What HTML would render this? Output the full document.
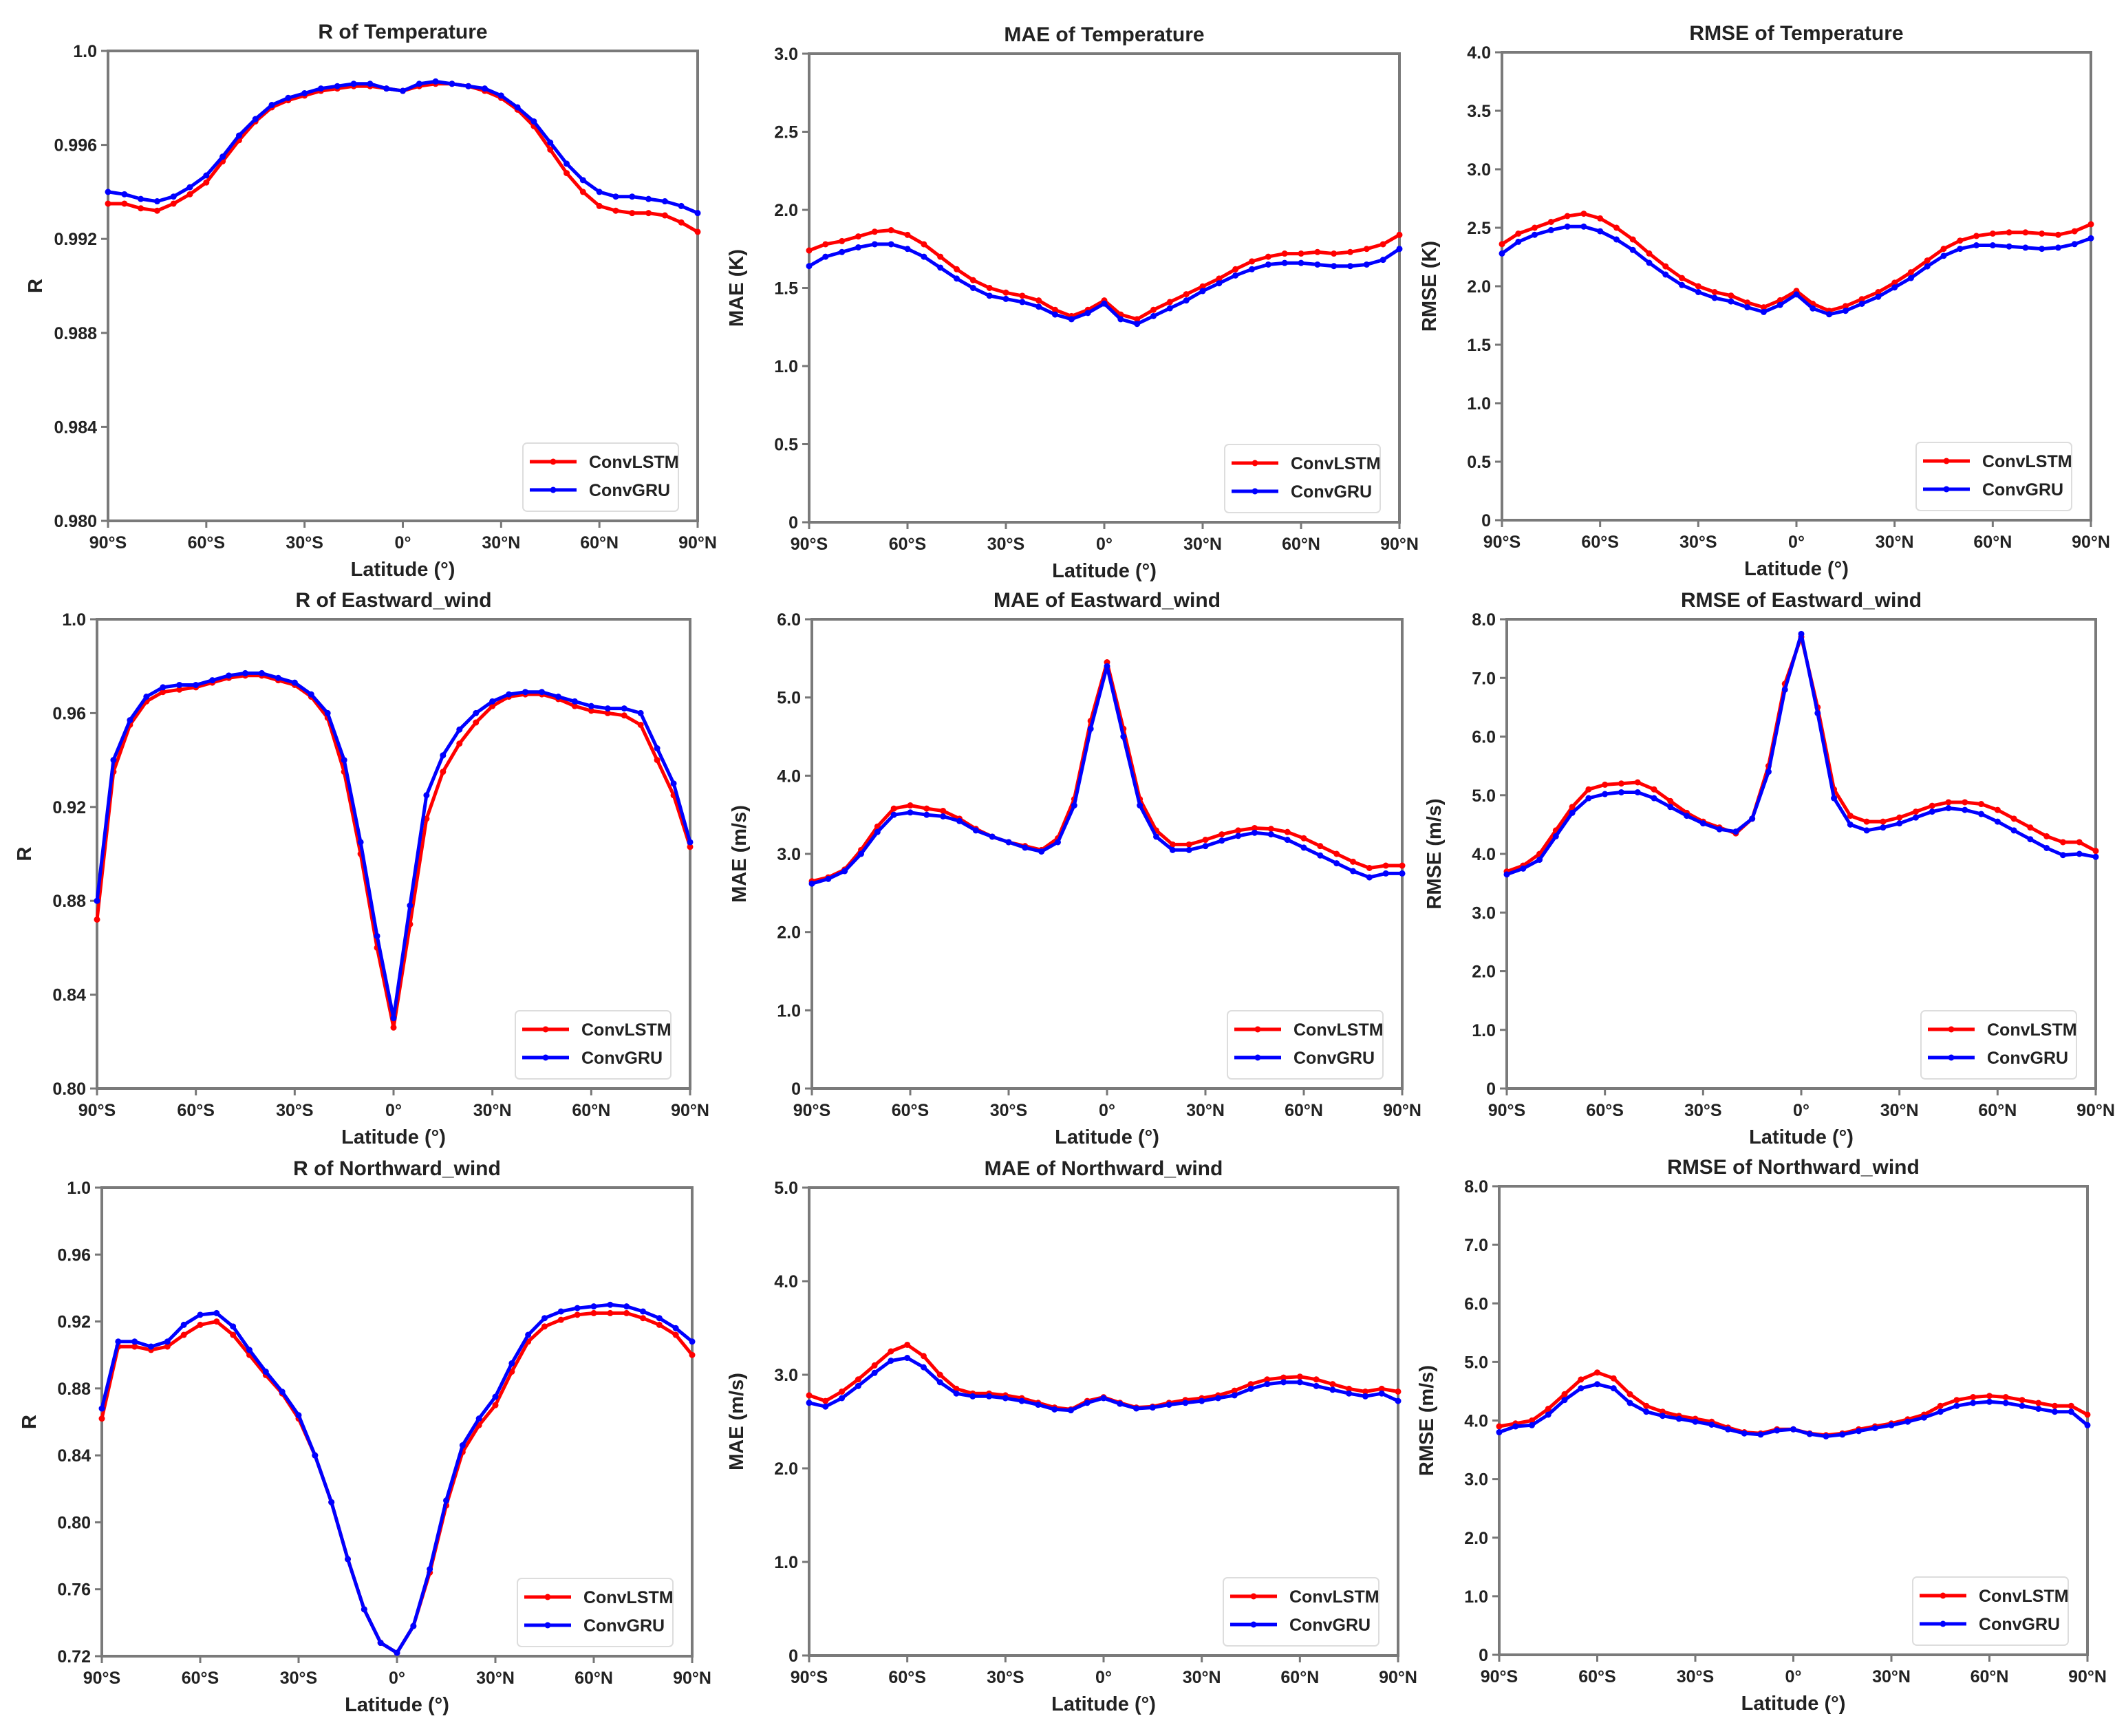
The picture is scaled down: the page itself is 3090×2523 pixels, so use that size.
<!DOCTYPE html>
<html><head><meta charset="utf-8">
<style>
html,body{margin:0;padding:0;background:#fff;}
svg{display:block;font-family:"Liberation Sans",sans-serif;}
</style></head>
<body>
<svg id="fig" width="3090" height="2523" viewBox="0 0 3090 2523" xmlns="http://www.w3.org/2000/svg"></svg>
<script>
const latitudes=[-90,-85,-80,-75,-70,-65,-60,-55,-50,-45,-40,-35,-30,-25,-20,-15,-10,-5,0,5,10,15,20,25,30,35,40,45,50,55,60,65,70,75,80,85,90];
const xTickValues=[-90,-60,-30,0,30,60,90];
const xTickLabels=["90°S","60°S","30°S","0°","30°N","60°N","90°N"];

const rTempLSTM=[.9935,.9935,.9933,.9932,.9935,.9939,.9944,.9953,.9962,.9970,.9976,.9979,.9981,.9983,.9984,.9985,.9985,.9984,.9983,.9985,.9986,.9986,.9985,.9983,.9980,.9975,.9968,.9958,.9948,.9940,.9934,.9932,.9931,.9931,.9930,.9927,.9923];
const rTempGRU=[.9940,.9939,.9937,.9936,.9938,.9942,.9947,.9955,.9964,.9971,.9977,.9980,.9982,.9984,.9985,.9986,.9986,.9984,.9983,.9986,.9987,.9986,.9985,.9984,.9981,.9976,.9970,.9961,.9952,.9945,.9940,.9938,.9938,.9937,.9936,.9934,.9931];
const maeTempLSTM=[1.74,1.78,1.80,1.83,1.86,1.87,1.84,1.78,1.70,1.62,1.55,1.50,1.47,1.45,1.42,1.36,1.32,1.36,1.42,1.33,1.30,1.36,1.41,1.46,1.51,1.56,1.62,1.67,1.70,1.72,1.72,1.73,1.72,1.73,1.75,1.78,1.84];
const maeTempGRU=[1.64,1.70,1.73,1.76,1.78,1.78,1.75,1.70,1.63,1.56,1.50,1.45,1.43,1.41,1.38,1.33,1.30,1.34,1.40,1.30,1.27,1.32,1.37,1.42,1.48,1.53,1.58,1.62,1.65,1.66,1.66,1.65,1.64,1.64,1.65,1.68,1.75];
const rmseTempLSTM=[2.36,2.45,2.50,2.55,2.60,2.62,2.58,2.50,2.40,2.28,2.17,2.07,2.00,1.95,1.92,1.86,1.82,1.88,1.96,1.85,1.79,1.83,1.89,1.95,2.03,2.12,2.22,2.32,2.39,2.43,2.45,2.46,2.46,2.45,2.44,2.47,2.53];
const rmseTempGRU=[2.28,2.38,2.44,2.48,2.51,2.51,2.47,2.40,2.31,2.20,2.10,2.01,1.95,1.90,1.87,1.82,1.78,1.84,1.93,1.81,1.76,1.79,1.85,1.91,1.99,2.07,2.17,2.26,2.32,2.35,2.35,2.34,2.33,2.32,2.33,2.36,2.41];
const rEastLSTM=[.872,.935,.955,.965,.969,.970,.971,.973,.975,.976,.976,.974,.972,.967,.958,.935,.900,.860,.826,.870,.915,.935,.947,.956,.963,.967,.968,.968,.966,.963,.961,.960,.959,.955,.940,.925,.903];
const rEastGRU=[.880,.940,.957,.967,.971,.972,.972,.974,.976,.977,.977,.975,.973,.968,.960,.940,.905,.865,.830,.878,.925,.942,.953,.960,.965,.968,.969,.969,.967,.965,.963,.962,.962,.960,.945,.930,.905];
const maeEastLSTM=[2.65,2.70,2.80,3.05,3.35,3.58,3.62,3.58,3.55,3.45,3.32,3.22,3.15,3.10,3.05,3.20,3.70,4.70,5.45,4.60,3.70,3.30,3.12,3.12,3.18,3.25,3.30,3.33,3.32,3.28,3.20,3.10,3.00,2.90,2.82,2.85,2.85];
const maeEastGRU=[2.62,2.68,2.78,3.00,3.28,3.50,3.53,3.50,3.48,3.42,3.30,3.22,3.15,3.08,3.03,3.15,3.62,4.60,5.40,4.50,3.62,3.22,3.05,3.05,3.10,3.17,3.23,3.27,3.25,3.18,3.08,2.98,2.88,2.78,2.70,2.75,2.75];
const rmseEastLSTM=[3.70,3.80,4.00,4.40,4.80,5.10,5.18,5.20,5.22,5.10,4.90,4.70,4.55,4.45,4.35,4.60,5.50,6.90,7.70,6.50,5.10,4.65,4.55,4.55,4.62,4.72,4.82,4.88,4.88,4.85,4.75,4.60,4.45,4.30,4.20,4.20,4.05];
const rmseEastGRU=[3.65,3.75,3.90,4.30,4.70,4.95,5.02,5.05,5.05,4.95,4.80,4.65,4.52,4.42,4.38,4.60,5.40,6.80,7.75,6.40,4.95,4.50,4.40,4.45,4.52,4.62,4.72,4.78,4.75,4.68,4.55,4.40,4.25,4.10,3.98,4.00,3.95];
const rNorthLSTM=[.862,.905,.905,.903,.905,.912,.918,.920,.912,.900,.888,.877,.862,.840,.812,.778,.748,.728,.722,.738,.770,.810,.842,.858,.870,.890,.908,.917,.921,.924,.925,.925,.925,.922,.918,.912,.900];
const rNorthGRU=[.868,.908,.908,.905,.908,.918,.924,.925,.917,.903,.890,.878,.864,.840,.812,.778,.748,.728,.722,.738,.772,.813,.846,.862,.875,.895,.912,.922,.926,.928,.929,.930,.929,.926,.922,.916,.908];
const maeNorthLSTM=[2.78,2.72,2.82,2.95,3.10,3.25,3.32,3.20,3.00,2.85,2.80,2.80,2.78,2.75,2.70,2.65,2.63,2.72,2.76,2.70,2.65,2.66,2.70,2.73,2.75,2.78,2.83,2.90,2.95,2.97,2.98,2.95,2.90,2.85,2.82,2.85,2.82];
const maeNorthGRU=[2.70,2.66,2.75,2.88,3.02,3.15,3.18,3.08,2.92,2.80,2.77,2.77,2.75,2.72,2.68,2.63,2.62,2.70,2.75,2.69,2.64,2.65,2.68,2.70,2.72,2.75,2.78,2.85,2.90,2.92,2.92,2.88,2.84,2.80,2.77,2.80,2.72];
const rmseNorthLSTM=[3.90,3.95,4.00,4.20,4.45,4.70,4.82,4.72,4.45,4.25,4.15,4.08,4.03,3.98,3.88,3.80,3.78,3.85,3.85,3.78,3.75,3.78,3.85,3.90,3.95,4.02,4.10,4.25,4.35,4.40,4.42,4.40,4.35,4.30,4.25,4.25,4.10];
const rmseNorthGRU=[3.80,3.90,3.92,4.10,4.35,4.55,4.62,4.55,4.30,4.15,4.08,4.03,3.98,3.93,3.85,3.78,3.76,3.83,3.85,3.77,3.73,3.76,3.82,3.87,3.92,3.98,4.05,4.15,4.25,4.30,4.32,4.30,4.25,4.20,4.15,4.15,3.92];

const yTicksR1=["0.980","0.984","0.988","0.992","0.996","1.0"];
const yTicksMAE1=["0","0.5","1.0","1.5","2.0","2.5","3.0"];
const yTicksRMSE1=["0","0.5","1.0","1.5","2.0","2.5","3.0","3.5","4.0"];
const yTicksR2=["0.80","0.84","0.88","0.92","0.96","1.0"];
const yTicksMAE2=["0","1.0","2.0","3.0","4.0","5.0","6.0"];
const yTicksRMSE2=["0","1.0","2.0","3.0","4.0","5.0","6.0","7.0","8.0"];
const yTicksR3=["0.72","0.76","0.80","0.84","0.88","0.92","0.96","1.0"];
const yTicksMAE3=["0","1.0","2.0","3.0","4.0","5.0"];
const yTicksRMSE3=yTicksRMSE2;

const panels=[
 {name:"r-temperature",title:"R of Temperature",ylab:"R",box:[157,74,1014,757],ymin:0.980,ymax:1.0,ticks:yTicksR1,a:rTempLSTM,b:rTempGRU},
 {name:"mae-temperature",title:"MAE of Temperature",ylab:"MAE (K)",box:[1176,78,2034,759],ymin:0,ymax:3,ticks:yTicksMAE1,a:maeTempLSTM,b:maeTempGRU},
 {name:"rmse-temperature",title:"RMSE of Temperature",ylab:"RMSE (K)",box:[2183,76,3039,756],ymin:0,ymax:4,ticks:yTicksRMSE1,a:rmseTempLSTM,b:rmseTempGRU},
 {name:"r-eastward-wind",title:"R of Eastward_wind",ylab:"R",box:[141,900,1003,1582],ymin:0.80,ymax:1.0,ticks:yTicksR2,a:rEastLSTM,b:rEastGRU},
 {name:"mae-eastward-wind",title:"MAE of Eastward_wind",ylab:"MAE (m/s)",box:[1180,900,2038,1582],ymin:0,ymax:6,ticks:yTicksMAE2,a:maeEastLSTM,b:maeEastGRU},
 {name:"rmse-eastward-wind",title:"RMSE of Eastward_wind",ylab:"RMSE (m/s)",box:[2190,900,3046,1582],ymin:0,ymax:8,ticks:yTicksRMSE2,a:rmseEastLSTM,b:rmseEastGRU},
 {name:"r-northward-wind",title:"R of Northward_wind",ylab:"R",box:[148,1726,1006,2407],ymin:0.72,ymax:1.0,ticks:yTicksR3,a:rNorthLSTM,b:rNorthGRU},
 {name:"mae-northward-wind",title:"MAE of Northward_wind",ylab:"MAE (m/s)",box:[1176,1726,2032,2406],ymin:0,ymax:5,ticks:yTicksMAE3,a:maeNorthLSTM,b:maeNorthGRU},
 {name:"rmse-northward-wind",title:"RMSE of Northward_wind",ylab:"RMSE (m/s)",box:[2179,1724,3034,2405],ymin:0,ymax:8,ticks:yTicksRMSE3,a:rmseNorthLSTM,b:rmseNorthGRU}
];

const NS="http://www.w3.org/2000/svg";
const svg=document.getElementById('fig');
function mk(tag,attrs,parent){const e=document.createElementNS(NS,tag);for(const k in attrs)e.setAttribute(k,attrs[k]);(parent||svg).appendChild(e);return e;}

panels.forEach(p=>{
 const [x0,y0,x1,y1]=p.box;
 const g=mk('g',{});
 
 
 const xs=v=>x0+(v+90)/180*(x1-x0);
 const ys=v=>y1-(v-p.ymin)/(p.ymax-p.ymin)*(y1-y0);
 const t=mk('text',{x:(x0+x1)/2,y:y0-18,'text-anchor':'middle','font-size':30,'font-weight':'bold',fill:'#222'},g);
 t.textContent=p.title;
 
 
 const yl=mk('text',{x:0,y:0,'text-anchor':'middle','font-size':29,'font-weight':'bold',fill:'#222',transform:`translate(${x0-96},${(y0+y1)/2}) rotate(-90)`},g);
 yl.textContent=p.ylab;
 
 
 const xl=mk('text',{x:(x0+x1)/2,y:y1+80,'text-anchor':'middle','font-size':29,'font-weight':'bold',fill:'#222'},g);
 xl.textContent="Latitude (°)";
 
 
 xTickValues.forEach((v,i)=>{
  const X=xs(v);
  const tk=mk('line',{x1:X,x2:X,y1:y1,y2:y1+10,stroke:'#777','stroke-width':3},g);
  
  
  const lb=mk('text',{x:X,y:y1+40,'text-anchor':'middle','font-size':25,'font-weight':'bold',fill:'#222'},g);
  lb.textContent=xTickLabels[i];
  
  
 });
 p.ticks.forEach(s=>{
  const Y=ys(parseFloat(s));
  const tk=mk('line',{x1:x0-10,x2:x0,y1:Y,y2:Y,stroke:'#777','stroke-width':3},g);
  
  
  const lb=mk('text',{x:x0-16,y:Y+9,'text-anchor':'end','font-size':25,'font-weight':'bold',fill:'#222'},g);
  lb.textContent=s;
  
  
 });
 const fr=mk('rect',{x:x0,y:y0,width:x1-x0,height:y1-y0,fill:'none',stroke:'#7a7a7a','stroke-width':4},g);
 
 
 [[p.a,'#ff0000','convlstm'],[p.b,'#0000ff','convgru']].forEach(([arr,col,nm])=>{
  const pts=arr.map((v,i)=>xs(latitudes[i]).toFixed(1)+','+ys(v).toFixed(1)).join(' ');
  const pl=mk('polyline',{points:pts,fill:'none',stroke:col,'stroke-width':5,'stroke-linejoin':'round'},g);
  
  
  arr.forEach((v,i)=>{
   const c=mk('circle',{cx:xs(latitudes[i]),cy:ys(v),r:4.5,fill:col},g);
   
   
  });
 });
 const lx=x1-254,ly=y1-113;
 const lg=mk('g',{},g);
 
 
 mk('rect',{x:lx,y:ly,width:226,height:99,rx:6,fill:'#fff',stroke:'#ddd','stroke-width':2},lg);
 [['ConvLSTM','#ff0000',0],['ConvGRU','#0000ff',1]].forEach(([n,c,k])=>{
  const yy=ly+27+k*41;
  const ln=mk('line',{x1:lx+10,x2:lx+78,y1:yy,y2:yy,stroke:c,'stroke-width':5},lg);
  
  
  mk('circle',{cx:lx+44,cy:yy,r:4.5,fill:c},lg);
  const tx=mk('text',{x:lx+96,y:yy+9,'font-size':25,'font-weight':'bold',fill:'#222'},lg);
  tx.textContent=n;
  
  
 });
});
</script>
</body></html>
